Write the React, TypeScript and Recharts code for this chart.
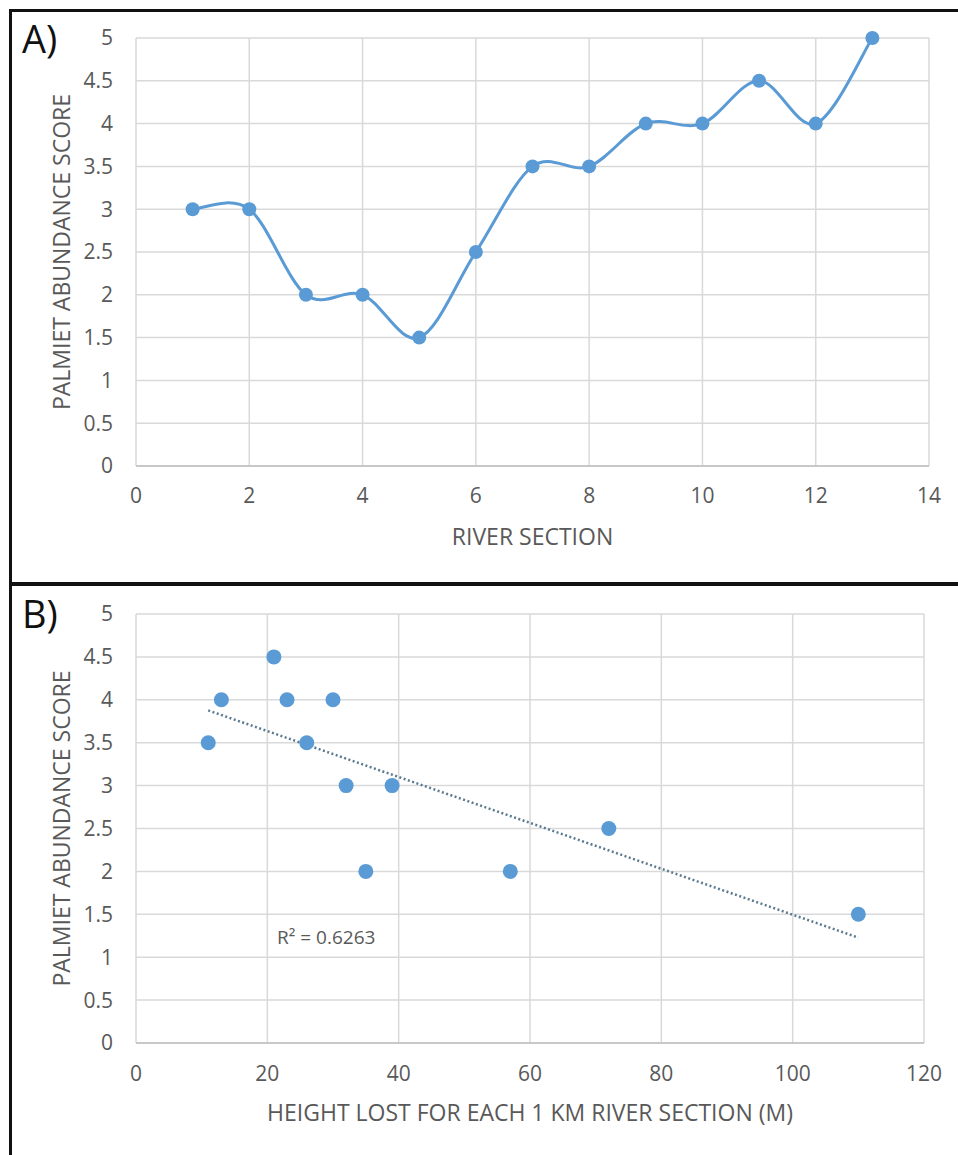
import React from "react"
import { LineChart, Line, ScatterChart, Scatter, XAxis, YAxis, CartesianGrid } from "recharts"

// panel A: abundance score along the river
const sections = [1, 2, 3, 4, 5, 6, 7, 8, 9, 10, 11, 12, 13]
const abundanceA = [3, 3, 2, 2, 1.5, 2.5, 3.5, 3.5, 4, 4, 4.5, 4, 5]

// panel B: score against height lost per 1 km section
const heightLost = [11, 13, 21, 23, 26, 30, 32, 35, 39, 57, 72, 110]
const abundanceB = [3.5, 4, 4.5, 4, 3.5, 4, 3, 2, 3, 2, 2.5, 1.5]

const xTicksA = [0, 2, 4, 6, 8, 10, 12, 14]
const xTicksB = [0, 20, 40, 60, 80, 100, 120]
const yTicks = [0, 0.5, 1, 1.5, 2, 2.5, 3, 3.5, 4, 4.5, 5]
const r2Label = "R² = 0.6263"

const BLUE = "#5B9BD5"
const TEXT = "#595959"
const GRID = "#D9D9D9"

const dataA = sections.map((s, i) => ({ x: s, y: abundanceA[i] }))
const dataB = heightLost.map((h, i) => ({ x: h, y: abundanceB[i] }))

// least squares fit, like the Excel linear trendline
function linearFit(xs: number[], ys: number[]) {
  const n = xs.length
  const mx = xs.reduce((a, b) => a + b, 0) / n
  const my = ys.reduce((a, b) => a + b, 0) / n
  let sxy = 0
  let sxx = 0
  xs.forEach((x, i) => {
    sxy += (x - mx) * (ys[i] - my)
    sxx += (x - mx) * (x - mx)
  })
  const slope = sxy / sxx
  return { slope, intercept: my - slope * mx }
}
const fit = linearFit(heightLost, abundanceB)
const xMin = Math.min(...heightLost)
const xMax = Math.max(...heightLost)
const trend = [xMin, xMax].map((x) => ({ x, y: fit.intercept + fit.slope * x }))

// Excel style smoothed line (catmull-rom through the points)
function smoothCurve(context: any) {
  let pts: number[][] = []
  return {
    areaStart() {},
    areaEnd() {},
    lineStart() {
      pts = []
    },
    lineEnd() {
      if (!pts.length) return
      context.moveTo(pts[0][0], pts[0][1])
      for (let i = 0; i < pts.length - 1; i++) {
        const p0 = pts[i - 1] || pts[i]
        const p1 = pts[i]
        const p2 = pts[i + 1]
        const p3 = pts[i + 2] || p2
        context.bezierCurveTo(
          p1[0] + (p2[0] - p0[0]) / 6,
          p1[1] + (p2[1] - p0[1]) / 6,
          p2[0] - (p3[0] - p1[0]) / 6,
          p2[1] - (p3[1] - p1[1]) / 6,
          p2[0],
          p2[1]
        )
      }
    },
    point(x: number, y: number) {
      pts.push([+x, +y])
    },
  }
}

const tickStyle = { fill: TEXT, fontSize: 21 }
const titleStyle = { fill: TEXT, fontSize: 23 }

const Dot = (props: any) => <circle cx={props.cx} cy={props.cy} r={7.5} fill={BLUE} />

export default function App() {
  return (
    <div
      style={{
        position: "absolute",
        left: 0,
        top: 0,
        width: 958,
        height: 1155,
        background: "#fff",
        fontFamily: "'Open Sans', sans-serif",
        overflow: "hidden",
      }}
    >
      {/* frame lines */}
      <div style={{ position: "absolute", left: 9, top: 9, width: 949, height: 3, background: "#111" }} />
      <div style={{ position: "absolute", left: 9, top: 9, width: 3, height: 1146, background: "#111" }} />
      <div style={{ position: "absolute", left: 9, top: 582, width: 949, height: 4, background: "#111" }} />

      <div style={{ position: "absolute", left: 22, top: 12, fontSize: 38, color: "#111" }}>A)</div>
      <div style={{ position: "absolute", left: 22, top: 587, fontSize: 38, color: "#111" }}>B)</div>

      <div style={{ position: "absolute", left: 0, top: 0 }}>
        <LineChart width={958} height={583} data={dataA} margin={{ top: 38, right: 29, left: 0, bottom: 17 }}>
          <CartesianGrid stroke={GRID} strokeWidth={1.5} />
          <XAxis
            dataKey="x"
            type="number"
            domain={[0, 14]}
            ticks={xTicksA}
            height={100}
            tick={tickStyle}
            tickLine={false}
            tickSize={0}
            tickMargin={22}
            axisLine={{ stroke: "#BFBFBF", strokeWidth: 1.5 }}
            label={{ value: "RIVER SECTION", position: "center", dy: 21, ...titleStyle }}
          />
          <YAxis
            type="number"
            domain={[0, 5]}
            ticks={yTicks}
            width={136}
            tick={tickStyle}
            tickLine={false}
            tickSize={0}
            tickMargin={23}
            axisLine={false}
            label={{ value: "PALMIET ABUNDANCE SCORE", angle: -90, position: "center", dx: -6, ...titleStyle }}
          />
          <Line
            dataKey="y"
            type={smoothCurve as any}
            stroke={BLUE}
            strokeWidth={3}
            dot={{ r: 7, fill: BLUE, stroke: BLUE, strokeWidth: 0 }}
            activeDot={false}
            isAnimationActive={false}
          />
        </LineChart>
      </div>

      <div style={{ position: "absolute", left: 0, top: 583 }}>
        <ScatterChart width={958} height={572} margin={{ top: 31, right: 34, left: 0, bottom: 12 }}>
          <CartesianGrid stroke={GRID} strokeWidth={1.5} />
          <XAxis
            dataKey="x"
            type="number"
            domain={[0, 120]}
            ticks={xTicksB}
            height={100}
            tick={tickStyle}
            tickLine={false}
            tickSize={0}
            tickMargin={23}
            axisLine={{ stroke: "#BFBFBF", strokeWidth: 1.5 }}
            label={{ value: "HEIGHT LOST FOR EACH 1 KM RIVER SECTION (M)", position: "center", dy: 20, ...titleStyle }}
          />
          <YAxis
            dataKey="y"
            type="number"
            domain={[0, 5]}
            ticks={yTicks}
            width={136}
            tick={tickStyle}
            tickLine={false}
            tickSize={0}
            tickMargin={23}
            axisLine={false}
            label={{ value: "PALMIET ABUNDANCE SCORE", angle: -90, position: "center", dx: -6, ...titleStyle }}
          />
          <Scatter
            data={trend}
            line={{ stroke: "#5B7A8F", strokeWidth: 2.5, strokeDasharray: "2 2.5" }}
            shape={() => <g />}
            isAnimationActive={false}
          />
          <Scatter data={dataB} shape={Dot} isAnimationActive={false} />
        </ScatterChart>
      </div>

      <div style={{ position: "absolute", left: 277, top: 924, fontSize: 19, color: TEXT }}>{r2Label}</div>
    </div>
  )
}
